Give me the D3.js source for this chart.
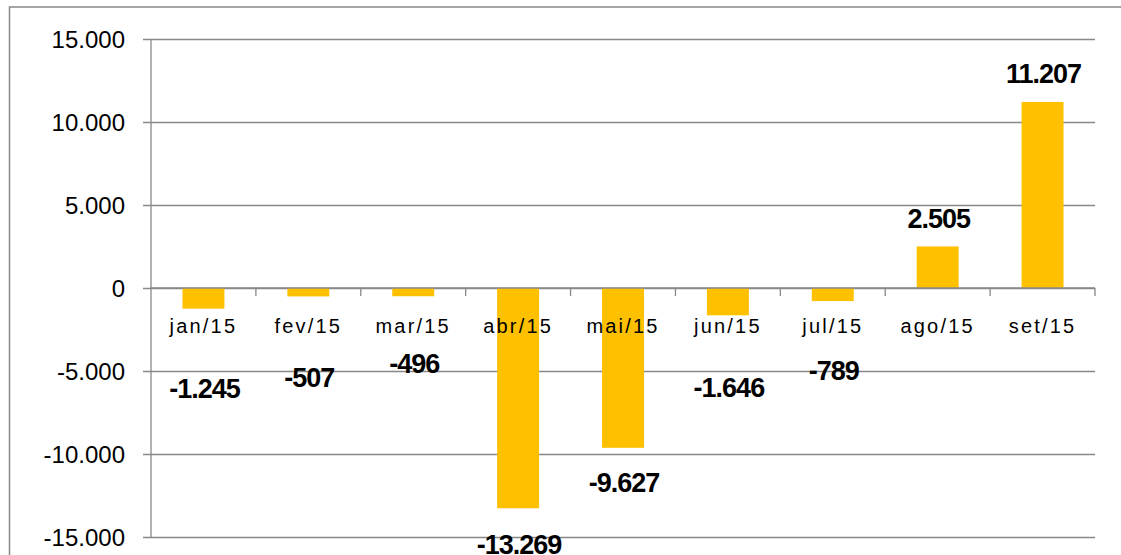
<!DOCTYPE html>
<html>
<head>
<meta charset="utf-8" />
<style>
body { margin: 0; background: #fff; }
text { font-family: "Liberation Sans", Arial, sans-serif; }
.grid line { stroke: #888; stroke-width: 1.3px; }
.ylab { font-size: 24px; fill: #000; }
.xlab { font-size: 20px; letter-spacing: 2.2px; fill: #000; }
.val { font-size: 27px; font-weight: bold; letter-spacing: -1px; fill: #000; }
</style>
</head>
<body>
<script src="https://cdn.jsdelivr.net/npm/d3@7/dist/d3.min.js"></script>
<script>
// monthly balance, 2015
var months = ["jan/15", "fev/15", "mar/15", "abr/15", "mai/15", "jun/15", "jul/15", "ago/15", "set/15"];
var values = [-1245, -507, -496, -13269, -9627, -1646, -789, 2505, 11207];
var yTicks = [-15000, -10000, -5000, 0, 5000, 10000, 15000];

// labels were nudged by hand in the original so they clear the month names
var labelShift = [80, 81, 67, 36, 35, 72, 69, -28, -28];

var width = 1121, height = 555;
var plotL = 151, plotR = 1095, plotT = 39, plotB = 537;

var br = d3.formatLocale({ decimal: ",", thousands: ".", grouping: [3], currency: ["", ""], minus: "-" });
var fmt = br.format(",d");

var svg = d3.select("body").append("svg")
    .attr("width", width)
    .attr("height", height);

svg.append("rect")
    .attr("width", width).attr("height", height)
    .attr("fill", "#fff");

// chart frame (runs off the right and bottom edges)
svg.append("rect")
    .attr("x", 9.5).attr("y", 7)
    .attr("width", width + 20).attr("height", height + 20)
    .attr("fill", "none")
    .attr("stroke", "#888")
    .attr("stroke-width", 1.5);

var x = d3.scaleBand()
    .domain(months)
    .range([plotL, plotR])
    .paddingInner(0.6)
    .paddingOuter(0.3);

var xSlot = d3.scaleBand().domain(months).range([plotL, plotR]);

var y = d3.scaleLinear()
    .domain([-15000, 15000])
    .range([plotB, plotT]);

// gridlines + y labels
var yAxis = svg.append("g")
    .attr("class", "grid")
    .attr("transform", "translate(" + plotL + ",0)")
    .call(d3.axisLeft(y)
        .tickValues(yTicks)
        .tickSize(-(plotR - plotL))
        .tickSizeOuter(0)
        .tickPadding(0)
        .tickFormat(fmt));
yAxis.attr("font-size", null).attr("font-family", null);
yAxis.select(".domain").remove();
yAxis.selectAll(".tick line").attr("x1", -8);
yAxis.selectAll(".tick text")
    .attr("class", "ylab")
    .attr("x", -26)
    .attr("dy", "0.35em");

// y axis line
svg.append("line")
    .attr("x1", plotL).attr("x2", plotL)
    .attr("y1", plotT).attr("y2", plotB)
    .attr("stroke", "#888").attr("stroke-width", 1.3);

// bars
svg.selectAll(".bar")
    .data(values)
  .enter().append("rect")
    .attr("class", "bar")
    .attr("x", function(d, i) { return x(months[i]); })
    .attr("width", x.bandwidth())
    .attr("y", function(d) { return y(Math.max(0, d)); })
    .attr("height", function(d) { return Math.abs(y(d) - y(0)); })
    .attr("fill", "#ffc000");

// zero axis with category ticks
var boundaries = months.map(function(m) { return xSlot(m) + xSlot.bandwidth(); });
svg.append("line")
    .attr("x1", plotL).attr("x2", plotR)
    .attr("y1", y(0)).attr("y2", y(0))
    .attr("stroke", "#888").attr("stroke-width", 1.3);
svg.selectAll(".ctick")
    .data(boundaries)
  .enter().append("line")
    .attr("x1", function(d) { return d; })
    .attr("x2", function(d) { return d; })
    .attr("y1", y(0)).attr("y2", y(0) + 8)
    .attr("stroke", "#888").attr("stroke-width", 1.3);

// month labels
svg.selectAll(".xlab")
    .data(months)
  .enter().append("text")
    .attr("class", "xlab")
    .attr("x", function(d) { return xSlot(d) + xSlot.bandwidth() / 2; })
    .attr("y", 333)
    .attr("text-anchor", "middle")
    .text(function(d) { return d; });

// value labels
svg.selectAll(".val")
    .data(values)
  .enter().append("text")
    .attr("class", "val")
    .attr("x", function(d, i) { return xSlot(months[i]) + xSlot.bandwidth() / 2 + 1; })
    .attr("y", function(d, i) { return y(d) + labelShift[i]; })
    .attr("dy", "0.35em")
    .attr("text-anchor", "middle")
    .text(function(d) { return fmt(d); });
</script>
</body>
</html>
